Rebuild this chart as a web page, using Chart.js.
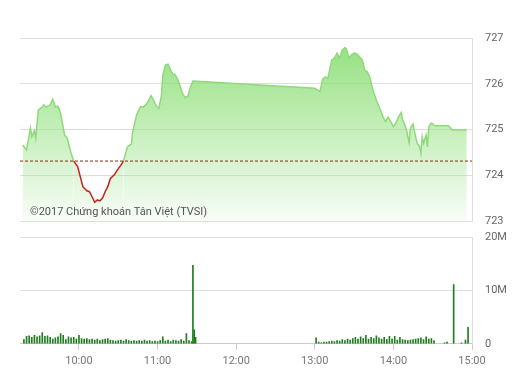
<!DOCTYPE html>
<html>
<head>
<meta charset="utf-8">
<script src="https://cdn.jsdelivr.net/npm/chart.js@4.4.1/dist/chart.umd.min.js"></script>
<style>
    body { margin: 0; background: #fff; }
    #wrap { position: relative; width: 514px; height: 376px; }
    #price-chart { position: absolute; left: 0; top: 0; }
    #volume-chart { position: absolute; left: 0; top: 225px; }
</style>
</head>
<body>
<div id="wrap">
    <canvas id="price-chart" width="514" height="235"></canvas>
    <canvas id="volume-chart" width="514" height="151"></canvas>
</div>
<script>
// index price through the session
const priceTimes = [
    '9:17', '9:20', '9:23', '9:24', '9:26', '9:27', '9:29', '9:32', '9:33', '9:35',
    '9:38', '9:40', '9:42', '9:44', '9:46', '9:49', '9:51', '9:54', '9:56', '9:59',
    '10:01', '10:03', '10:06', '10:08', '10:10', '10:12', '10:14', '10:16', '10:18', '10:20',
    '10:22', '10:24', '10:27', '10:29', '10:32', '10:34', '10:37', '10:40', '10:41', '10:44',
    '10:47', '10:49', '10:52', '10:55', '10:57', '10:59', '11:01', '11:03', '11:04', '11:06',
    '11:08', '11:10', '11:12', '11:13', '11:15', '11:17', '11:19', '11:21', '11:23', '11:25',
    '11:27', '13:00', '13:04', '13:06', '13:08', '13:10', '13:13', '13:15', '13:17', '13:19',
    '13:21', '13:23', '13:24', '13:26', '13:28', '13:30', '13:32', '13:34', '13:36', '13:37',
    '13:38', '13:40', '13:42', '13:44', '13:47', '13:50', '13:52', '13:54', '13:56', '13:58',
    '14:00', '14:02', '14:04', '14:06', '14:07', '14:09', '14:10', '14:12', '14:13', '14:15',
    '14:17', '14:18', '14:20', '14:21', '14:22', '14:23', '14:25', '14:26', '14:27', '14:29',
    '14:32', '14:42', '14:45', '14:56'
];
const priceValues = [
    724.66, 724.55, 725.03, 724.84, 724.97, 724.81, 725.43, 725.49, 725.54, 725.49,
    725.54, 725.66, 725.49, 725.51, 725.35, 724.88, 724.81, 724.48, 724.31, 724.19,
    723.97, 723.75, 723.66, 723.64, 723.53, 723.41, 723.46, 723.44, 723.50, 723.64,
    723.75, 723.93, 724.01, 724.10, 724.22, 724.31, 724.62, 724.68, 724.95, 725.32,
    725.50, 725.49, 725.57, 725.74, 725.64, 725.51, 725.46, 725.75, 726.19, 726.41,
    726.43, 726.30, 726.19, 726.21, 726.12, 725.97, 725.79, 725.70, 725.72, 725.92,
    726.06, 725.90, 725.83, 726.10, 726.15, 726.12, 726.52, 726.56, 726.67, 726.56,
    726.74, 726.79, 726.77, 726.56, 726.63, 726.67, 726.65, 726.59, 726.53, 726.45,
    726.30, 726.26, 726.15, 725.90, 725.64, 725.43, 725.28, 725.17, 725.27, 725.17,
    725.06, 725.15, 725.28, 725.37, 725.21, 725.08, 724.99, 724.71, 725.03, 725.12,
    724.84, 724.71, 724.62, 724.48, 724.84, 724.70, 724.88, 724.62, 725.06, 725.14,
    725.08, 725.08, 724.99, 724.99
];
const refPrice = 724.31;

// matched volume (millions of shares)
const volumeTimes = [
    '9:18', '9:20', '9:22', '9:24', '9:26', '9:28', '9:30', '9:32', '9:34', '9:36',
    '9:38', '9:40', '9:42', '9:44', '9:46', '9:48', '9:50', '9:52', '9:54', '9:56',
    '9:58', '10:00', '10:02', '10:04', '10:06', '10:08', '10:10', '10:12', '10:14', '10:16',
    '10:18', '10:20', '10:22', '10:24', '10:26', '10:28', '10:30', '10:32', '10:34', '10:36',
    '10:38', '10:40', '10:42', '10:44', '10:46', '10:48', '10:50', '10:52', '10:54', '10:56',
    '10:58', '11:00', '11:02', '11:04', '11:06', '11:08', '11:10', '11:12', '11:14', '11:16',
    '11:18', '11:20', '11:22', '11:24', '11:26', '11:27', '11:28', '11:29',
    '13:01', '13:03', '13:05', '13:07', '13:09', '13:11', '13:13', '13:15', '13:17', '13:19',
    '13:21', '13:23', '13:25', '13:27', '13:29', '13:31', '13:33', '13:35', '13:37', '13:39',
    '13:41', '13:43', '13:45', '13:47', '13:49', '13:51', '13:53', '13:55', '13:57', '13:59',
    '14:01', '14:03', '14:05', '14:07', '14:09', '14:11', '14:13', '14:15', '14:17', '14:19',
    '14:21', '14:23', '14:25', '14:27', '14:29', '14:31', '14:39', '14:41', '14:46', '14:52',
    '14:55', '14:57'
];
const volumeValues = [
    0.8, 1.4, 1.5, 1.2, 1.6, 1.3, 1.5, 2.1, 1.4, 1.5,
    1.2, 0.9, 1.1, 1.3, 1.9, 1.6, 0.8, 1.3, 1.1, 1.2,
    0.9, 1.6, 1.0, 0.9, 1.0, 0.8, 0.9, 0.7, 0.9, 0.6,
    0.8, 0.9, 1.0, 0.7, 0.6, 0.5, 0.6, 0.7, 0.5, 0.8,
    0.6, 0.5, 0.6, 0.5, 0.6, 0.5, 0.7, 0.5, 0.6, 0.4,
    0.5, 0.4, 0.6, 1.3, 0.5, 0.7, 0.4, 0.7, 0.6, 0.5,
    0.8, 0.5, 1.9, 0.6, 0.4, 14.7, 2.6, 1.2,
    1.1, 0.3, 0.2, 0.3, 0.3, 0.4, 0.5, 0.4, 0.6, 0.5,
    0.8, 0.6, 0.9, 0.7, 1.0, 1.2, 0.9, 1.3, 1.0, 1.6,
    0.9, 1.2, 1.0, 1.5, 1.1, 0.9, 1.2, 0.8, 1.4, 0.9,
    1.4, 0.7, 1.2, 0.8, 0.7, 0.6, 0.7, 0.8, 0.9, 1.0,
    1.1, 0.8, 1.3, 0.9, 1.0, 0.6, 0.2, 0.3, 11.1, 0.2,
    0.7, 3.1
];

const hourTicks = ['10:00', '11:00', '12:00', '13:00', '14:00', '15:00'];
const sessionStart = '9:15';
const sessionEnd = '15:00';

const toMin = t => {
    const [h, m] = t.split(':').map(Number);
    return h * 60 + m;
};
const fmtTime = v => Math.floor(v / 60) + ':' + String(v % 60).padStart(2, '0');

const FONT = "'Roboto', 'Liberation Sans', sans-serif";
const GRID = '#dedede';
const RIGHT_AXIS = 42;

// fixed width for the right hand axis so both panels line up
const fitRight = scale => { scale.width = RIGHT_AXIS; };

// right axis: invisible tick marks push the labels out without adding vertical padding
const rightGrid = { color: GRID, drawTicks: true, tickLength: 10, tickColor: 'transparent' };

const copyright = {
    id: 'copyright',
    afterDatasetsDraw(chart) {
        const ctx = chart.ctx;
        ctx.save();
        ctx.font = '11px ' + FONT;
        ctx.fillStyle = '#555';
        ctx.textBaseline = 'middle';
        ctx.fillText('©2017 Chứng khoán Tân Việt (TVSI)', chart.chartArea.left + 10, chart.chartArea.bottom - 9);
        ctx.restore();
    }
};

const priceChart = new Chart(document.getElementById('price-chart').getContext('2d'), {
    type: 'line',
    data: {
        datasets: [{
            data: priceTimes.map((t, i) => ({ x: toMin(t), y: priceValues[i] })),
            borderColor: '#8fd97b',
            borderWidth: 1.5,
            pointRadius: 0,
            tension: 0,
            fill: 'start',
            backgroundColor: context => {
                const area = context.chart.chartArea;
                if (!area) return 'rgba(150,225,130,0.5)';
                const g = context.chart.ctx.createLinearGradient(0, area.top, 0, area.bottom);
                g.addColorStop(0, 'rgba(140,222,118,0.95)');
                g.addColorStop(1, 'rgba(140,222,118,0.06)');
                return g;
            },
            segment: {
                borderColor: c => (c.p0.parsed.y + c.p1.parsed.y) / 2 < refPrice ? '#cc1f16' : undefined
            },
            order: 2
        }, {
            // reference (previous close)
            data: [{ x: toMin(sessionStart), y: refPrice }, { x: toMin(sessionEnd), y: refPrice }],
            borderColor: '#8a2a10',
            borderWidth: 1,
            borderDash: [3, 2],
            pointRadius: 0,
            fill: false,
            order: 1
        }]
    },
    options: {
        responsive: false,
        animation: false,
        events: [],
        layout: { padding: { left: 20, top: 38, bottom: 14 } },
        plugins: { legend: { display: false }, tooltip: { enabled: false } },
        scales: {
            x: {
                type: 'linear',
                display: false,
                min: toMin(sessionStart),
                max: toMin(sessionEnd)
            },
            y: {
                position: 'right',
                min: 723,
                max: 727,
                afterFit: fitRight,
                ticks: { stepSize: 1, padding: 3, color: '#666', font: { family: FONT, size: 11 } },
                grid: rightGrid,
                border: { color: GRID }
            }
        }
    },
    plugins: [copyright]
});

const volumeChart = new Chart(document.getElementById('volume-chart').getContext('2d'), {
    type: 'bar',
    data: {
        datasets: [{
            data: volumeTimes.map((t, i) => ({ x: toMin(t), y: volumeValues[i] })),
            backgroundColor: '#1f7d1f',
            barThickness: 1
        }]
    },
    options: {
        responsive: false,
        animation: false,
        events: [],
        layout: { padding: { left: 20, top: 12, bottom: 3 } },
        plugins: { legend: { display: false }, tooltip: { enabled: false } },
        scales: {
            x: {
                type: 'linear',
                offset: false,
                min: toMin(sessionStart),
                max: toMin(sessionEnd),
                afterBuildTicks: scale => { scale.ticks = hourTicks.map(t => ({ value: toMin(t) })); },
                ticks: {
                    padding: 5,
                    color: '#777',
                    font: { family: FONT, size: 11 },
                    maxRotation: 0,
                    callback: v => fmtTime(v)
                },
                grid: { drawOnChartArea: false, offset: false, tickLength: 6, color: '#ccc' },
                border: { color: '#ccc' }
            },
            y: {
                position: 'right',
                min: 0,
                max: 20,
                afterFit: fitRight,
                ticks: {
                    stepSize: 10,
                    padding: 3,
                    color: '#666',
                    font: { family: FONT, size: 11 },
                    callback: v => v === 0 ? '0' : v + 'M'
                },
                grid: rightGrid,
                border: { color: GRID }
            }
        }
    }
});
</script>
</body>
</html>
